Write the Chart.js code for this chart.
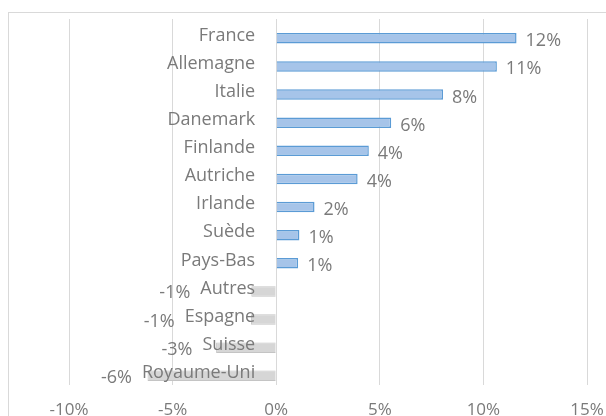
<!DOCTYPE html>
<html>
<head>
<meta charset="utf-8">
<script src="https://cdn.jsdelivr.net/npm/chart.js@4/dist/chart.umd.min.js"></script>
<style>
  html, body { margin: 0; padding: 0; background: #ffffff; overflow: hidden; }
  #wrap { width: 606px; height: 440px; position: relative; }
</style>
</head>
<body>
<div id="wrap"><canvas id="c" width="606" height="440"></canvas></div>
<script>
// ---- data ----
const categories = ['France', 'Allemagne', 'Italie', 'Danemark', 'Finlande', 'Autriche', 'Irlande', 'Suède', 'Pays-Bas', 'Autres', 'Espagne', 'Suisse', 'Royaume-Uni'];
const values = [11.6, 10.65, 8.05, 5.55, 4.47, 3.93, 1.85, 1.12, 1.06, -1.2, -1.22, -2.9, -6.21];
const spacer = [null, null, null, null, null, null, null, null, null, null, null, null, null];
const xTicks = [-10, -5, 0, 5, 10, 15];

// ---- styles ----
const textColor = '#7a7a7a';
const gridColor = '#d9d9d9';
const posFill = '#a6c4e9';
const posBorder = '#5b9bd5';
const negFill = '#d6d6d6';
const negBorder = '#c4c4c4';
const fontFamily = '"Open Sans", "Noto Sans", sans-serif';

const frameAndLabels = {
  id: 'frameAndLabels',
  beforeDraw(chart) {
    const ctx = chart.ctx;
    ctx.save();
    ctx.strokeStyle = gridColor;
    ctx.lineWidth = 1;
    ctx.strokeRect(8.5, 12.5, 800, 600);
    ctx.restore();
  },
  afterDatasetsDraw(chart) {
    const ctx = chart.ctx;
    const xs = chart.scales.x, ys = chart.scales.y;
    const x0 = xs.getPixelForValue(0);
    const meta = chart.getDatasetMeta(1);
    ctx.save();
    ctx.font = '18px ' + fontFamily;
    ctx.fillStyle = textColor;
    ctx.textBaseline = 'alphabetic';
    categories.forEach((name, i) => {
      const yc = ys.getPixelForTick(i);
      const labelRight = x0 - 21;
      ctx.textAlign = 'right';
      ctx.fillText(name, labelRight, yc + 7.5);
      const w = ctx.measureText(name).width;
      const bar = meta.data[i];
      const v = values[i];
      const txt = Math.round(v) + '%';
      if (v >= 0) {
        ctx.textAlign = 'left';
        ctx.fillText(txt, bar.x + 9, bar.y + 8);
      } else {
        ctx.textAlign = 'right';
        ctx.fillText(txt, Math.min(bar.x - 4, labelRight - w - 10), bar.y + 7);
      }
    });
    ctx.restore();
  }
};

new Chart(document.getElementById('c'), {
  type: 'bar',
  data: {
    labels: categories,
    datasets: [
      { label: 'spacer', data: spacer, backgroundColor: 'rgba(0,0,0,0)', borderWidth: 0 },
      {
        label: 'valeurs',
        data: values,
        backgroundColor: values.map(v => v >= 0 ? posFill : negFill),
        borderColor: values.map(v => v >= 0 ? posBorder : negBorder),
        borderWidth: values.map(v => v >= 0 ? 1.5 : 1)
      }
    ]
  },
  options: {
    indexAxis: 'y',
    responsive: false,
    animation: false,
    devicePixelRatio: 1,
    layout: { padding: { left: 69, right: 19, top: 19, bottom: 18 } },
    datasets: { bar: { categoryPercentage: 0.75, barPercentage: 1 } },
    plugins: { legend: { display: false }, tooltip: { enabled: false } },
    scales: {
      x: {
        min: -10, max: 15,
        afterBuildTicks(scale) { scale.ticks = xTicks.map(v => ({ value: v })); },
        grid: { color: gridColor, drawTicks: true, tickLength: 13, tickColor: 'rgba(0,0,0,0)', lineWidth: 1 },
        border: { display: false },
        ticks: {
          padding: 2,
          color: textColor,
          font: { family: fontFamily, size: 17 },
          callback: v => v + '%'
        }
      },
      y: {
        display: false
      }
    }
  },
  plugins: [frameAndLabels]
});
</script>
</body>
</html>
